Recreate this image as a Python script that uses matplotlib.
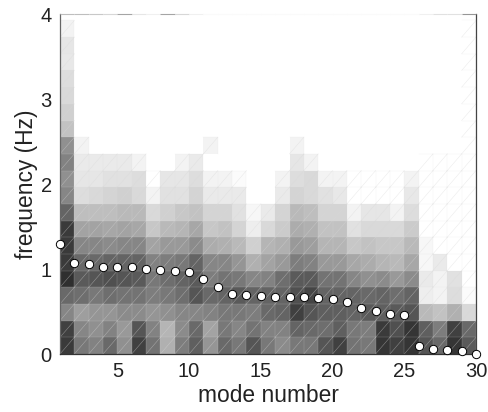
import matplotlib
matplotlib.use("Agg")
import matplotlib.pyplot as plt
from matplotlib.colors import PowerNorm
import numpy as np

plt.rcParams['font.family'] = ['Liberation Sans', 'DejaVu Sans']

# gray level of every cell, one list per frequency row (bottom row first), modes 1..29
r0 = [45,105,115,90,130,50,100,165,110,80,135,90,105,70,105,125,105,105,70,50,100,105,40,50,40,70,90,40,75]
r1 = [50,120,130,115,140,70,115,170,125,90,150,105,120,100,115,115,85,90,95,80,105,110,45,65,40,80,110,50,90]
r2 = [120,145,135,135,125,125,135,130,120,120,115,105,105,110,90,85,50,70,80,80,85,75,80,75,70,175,185,165,210]
r3 = [90,95,105,95,100,100,110,105,95,70,90,85,75,85,85,85,65,55,85,85,85,90,85,95,85,235,240,215,250]
r4 = [35,75,70,65,70,75,105,95,85,75,110,100,105,120,115,95,75,75,100,100,120,130,125,140,125,230,240,220,254]
r5 = [45,90,90,85,85,85,115,110,105,85,120,120,135,165,150,140,110,115,140,140,155,160,170,175,155,245,230,254,254]
r6 = [45,120,120,125,120,120,150,140,140,125,160,165,175,200,170,165,140,145,170,170,190,185,190,190,175,245,254,254,254]
r7 = [45,150,150,155,150,155,190,175,170,155,190,185,205,235,210,195,160,165,185,185,220,210,210,210,195,254,254,254,254]
r8 = [85,180,180,180,175,175,210,200,190,185,205,205,220,245,230,205,175,180,205,205,240,225,225,240,215,254,254,254,254]
r9 = [120,215,210,205,200,210,240,220,220,205,230,230,230,255,255,230,205,210,220,228,254,254,254,254,228,254,254,254,254]
r10 = [130,225,225,220,220,215,254,225,225,215,240,240,250,255,255,240,215,210,240,240,254,254,254,254,240,254,254,254,254]
r11 = [115,230,230,230,230,240,255,255,240,230,255,255,255,255,255,255,225,240,255,255,255,255,255,255,255,254,254,254,254]
r12 = [130,240,255,255,255,255,255,255,255,255,240,255,255,255,255,255,240,255,255,255,255,255,255,255,255,255,255,255,254]
r13 = [185]+[255]*27+[254]
r14 = [200]+[255]*27+[254]
r15 = [210]+[255]*27+[254]
r16 = [215]+[255]*27+[254]
r17 = [228]+[255]*27+[254]
r18 = [225]+[255]*27+[254]
r19 = [240]+[255]*27+[254]

top_edge = [190,190,200,215,165,230,240,165,215,240,250,250,250,250,250,250,250,250,250,250,250,250,250,250,250,240,225,225,150]

mode = np.arange(1,31)
freq = [1.30,1.075,1.06,1.03,1.03,1.02,1.0,0.99,0.98,0.97,0.88,0.79,0.71,0.70,0.68,
        0.675,0.67,0.67,0.66,0.65,0.61,0.54,0.505,0.475,0.465,0.10,0.06,0.05,0.03,0.0]

grid = np.array([r0,r1,r2,r3,r4,r5,r6,r7,r8,r9,r10,r11,r12,r13,r14,r15,r16,r17,r18,r19],dtype=float)
row_step = 0.1965
y_edges = np.arange(grid.shape[0]+1)*row_step

fig = plt.figure(figsize=(4.88,4.12),dpi=100)
ax = fig.add_axes((60/488,1-354/412,416/488,339.5/412))
ax.pcolormesh(mode,y_edges,grid,cmap="gray",norm=PowerNorm(0.85,vmin=0,vmax=255),edgecolors="none")

# thin mesh lines left by the surface plot: cell borders and one diagonal per cell
for i in range(grid.shape[0]):
    for j in range(grid.shape[1]):
        if grid[i,j]==255:
            continue
        x0,x1 = mode[j],mode[j+1]
        y0,y1 = y_edges[i],y_edges[i+1]
        ax.plot([x0,x1],[y0,y1],color="#d8d8d8",lw=0.35,alpha=0.55,zorder=2)
        ax.plot([x0,x1,x1],[y1,y1,y0],color="#dddddd",lw=0.35,alpha=0.35,zorder=2)

for j in range(grid.shape[1]):
    g = top_edge[j]/255
    ax.plot([mode[j],mode[j+1]],[4,4],color=(g,g,g),lw=0.8,zorder=3,clip_on=False,solid_capstyle="butt")

ax.plot(mode,freq,"o",mfc="white",mec="black",mew=0.7,ms=6,ls="none",clip_on=False,zorder=5)

ax.set_xlim(1,30)
ax.set_ylim(0,4)
ax.set_xticks([5,10,15,20,25,30])
ax.set_yticks([0,1,2,3,4])
ax.tick_params(length=0,labelsize=14.5,pad=6,colors="#222222")
ax.set_xlabel("mode number",fontsize=16.4,color="#222222",labelpad=2)
ax.set_ylabel("frequency (Hz)",fontsize=16.4,color="#222222",labelpad=2)
ax.spines["top"].set_visible(False)
ax.spines["left"].set_color("#666666")
ax.spines["right"].set_color("#444444")
ax.spines["bottom"].set_color("#333333")
for s in ["left","right","bottom"]:
    ax.spines[s].set_linewidth(0.9)

plt.savefig("out.png",dpi=100)
